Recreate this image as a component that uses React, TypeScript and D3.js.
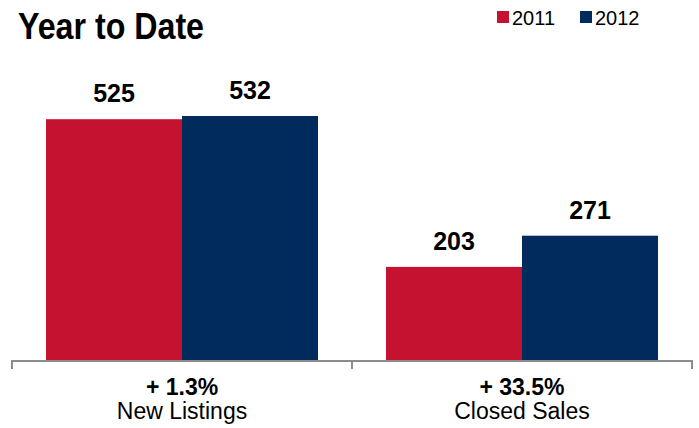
import { useEffect, useRef } from "react";
import * as d3 from "d3";

const categories = ["New Listings", "Closed Sales"];
const changes = ["+ 1.3%", "+ 33.5%"];
const years = ["2011", "2012"];
const values2011 = [525, 203];
const values2012 = [532, 271];
const colors = ["#C41230", "#002B5C"];

export default function App() {
    const svgRef = useRef<SVGSVGElement | null>(null);

    useEffect(() => {
        const svg = d3.select(svgRef.current);
        svg.selectAll("*").remove();

        const width = 699;
        const height = 428;
        const baseline = 360;
        const font = "'Liberation Sans', Arial, Helvetica, sans-serif";

        const x0 = d3.scaleBand().domain(categories).range([12, 692]).padding(0);
        const x1 = d3.scaleBand().domain(years).range([0, x0.bandwidth()]).paddingInner(0).paddingOuter(0.25);
        const y = d3.scaleLinear().domain([0, 532]).range([baseline, 116]);

        const data = categories.map((c, i) => ({
            category: c,
            change: changes[i],
            bars: years.map((yr, j) => ({ year: yr, value: j === 0 ? values2011[i] : values2012[i], color: colors[j] })),
        }));

        // title
        svg.append("text")
            .attr("x", 18)
            .attr("y", 39)
            .attr("font-family", font)
            .attr("font-weight", "bold")
            .attr("font-size", 37)
            .attr("textLength", 186)
            .attr("lengthAdjust", "spacingAndGlyphs")
            .attr("fill", "#000")
            .text("Year to Date");

        // legend
        const legendX = [497, 580];
        years.forEach((yr, j) => {
            svg.append("rect")
                .attr("x", legendX[j])
                .attr("y", 11)
                .attr("width", 12)
                .attr("height", 12)
                .attr("fill", colors[j]);
            svg.append("text")
                .attr("x", legendX[j] + 15)
                .attr("y", 25)
                .attr("font-family", font)
                .attr("font-size", 20)
                .attr("fill", "#000")
                .text(yr);
        });

        const groups = svg.selectAll("g.group")
            .data(data)
            .join("g")
            .attr("class", "group")
            .attr("transform", d => `translate(${x0(d.category)},0)`);

        groups.selectAll("rect")
            .data(d => d.bars)
            .join("rect")
            .attr("x", d => x1(d.year))
            .attr("y", d => y(d.value))
            .attr("width", x1.bandwidth())
            .attr("height", d => baseline - y(d.value))
            .attr("fill", d => d.color);

        groups.selectAll("text.val")
            .data(d => d.bars)
            .join("text")
            .attr("class", "val")
            .attr("x", d => x1(d.year) + x1.bandwidth() / 2)
            .attr("y", d => y(d.value) - 17)
            .attr("text-anchor", "middle")
            .attr("font-family", font)
            .attr("font-weight", "bold")
            .attr("font-size", 25)
            .attr("fill", "#000")
            .text(d => d.value);

        // axis
        const axis = svg.append("g").attr("stroke", "#8c8c8c").attr("stroke-width", 2);
        axis.append("line")
            .attr("x1", x0.range()[0]).attr("x2", x0.range()[1])
            .attr("y1", baseline + 1).attr("y2", baseline + 1);
        const tickXs = [x0.range()[0], ...categories.slice(1).map(c => x0(c)), x0.range()[1]];
        tickXs.forEach(t => {
            axis.append("line")
                .attr("x1", t).attr("x2", t)
                .attr("y1", baseline).attr("y2", baseline + 9);
        });

        groups.append("text")
            .attr("x", x0.bandwidth() / 2)
            .attr("y", 395)
            .attr("text-anchor", "middle")
            .attr("font-family", font)
            .attr("font-weight", "bold")
            .attr("font-size", 23)
            .attr("fill", "#000")
            .text(d => d.change);

        groups.append("text")
            .attr("x", x0.bandwidth() / 2)
            .attr("y", 419)
            .attr("text-anchor", "middle")
            .attr("font-family", font)
            .attr("font-size", 23)
            .attr("fill", "#000")
            .text(d => d.category);

        svg.attr("width", width).attr("height", height);
    }, []);

    return (
        <svg
            ref={svgRef}
            width={699}
            height={428}
            style={{ position: "absolute", left: 0, top: 0, background: "#fff" }}
        />
    );
}
